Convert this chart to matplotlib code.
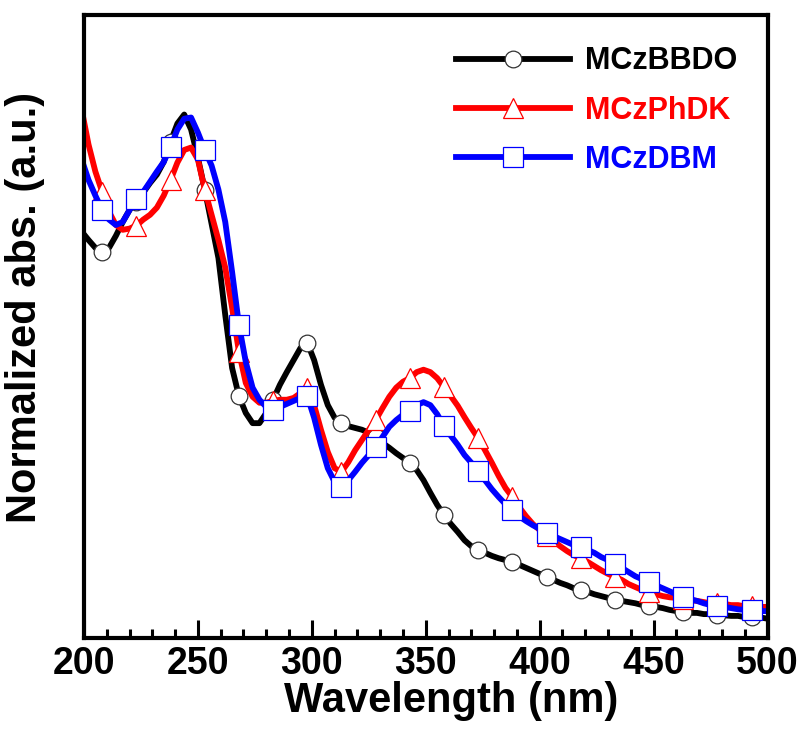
import numpy as np
import matplotlib
matplotlib.use("Agg")
import matplotlib.pyplot as plt
from matplotlib.ticker import MultipleLocator

plt.rcParams['font.family'] = ['Liberation Sans', 'DejaVu Sans']
plt.rcParams['font.weight'] = 'bold'

# wavelength grid (nm), every 3 nm
wavelength = np.arange(199, 500, 3)

mczbbdo = [0.677, 0.663, 0.650, 0.643, 0.650, 0.670, 0.693, 0.713, 0.727, 0.742,
           0.758, 0.772, 0.793, 0.827, 0.857, 0.872, 0.847, 0.800, 0.747, 0.690,
           0.633, 0.538, 0.450, 0.403, 0.375, 0.358, 0.358, 0.375, 0.397, 0.422,
           0.443, 0.463, 0.483, 0.492, 0.463, 0.422, 0.388, 0.367, 0.358, 0.353,
           0.350, 0.347, 0.342, 0.335, 0.325, 0.317, 0.308, 0.300, 0.292, 0.280,
           0.263, 0.242, 0.222, 0.205, 0.190, 0.177, 0.163, 0.153, 0.147, 0.142,
           0.137, 0.133, 0.130, 0.127, 0.122, 0.117, 0.112, 0.107, 0.102, 0.097,
           0.092, 0.088, 0.083, 0.080, 0.077, 0.073, 0.070, 0.067, 0.063, 0.062,
           0.060, 0.058, 0.055, 0.053, 0.052, 0.050, 0.047, 0.045, 0.043, 0.042,
           0.042, 0.040, 0.040, 0.038, 0.038, 0.037, 0.037, 0.035, 0.035, 0.035,
           0.033]

mczphdk = [0.880, 0.822, 0.777, 0.743, 0.710, 0.688, 0.680, 0.682, 0.687, 0.697,
           0.705, 0.717, 0.737, 0.763, 0.792, 0.813, 0.817, 0.797, 0.747, 0.705,
           0.663, 0.617, 0.550, 0.477, 0.425, 0.402, 0.392, 0.392, 0.395, 0.397,
           0.397, 0.400, 0.408, 0.417, 0.388, 0.347, 0.310, 0.283, 0.277, 0.293,
           0.313, 0.330, 0.347, 0.363, 0.383, 0.402, 0.417, 0.427, 0.433, 0.443,
           0.447, 0.443, 0.433, 0.418, 0.403, 0.387, 0.368, 0.350, 0.333, 0.313,
           0.292, 0.270, 0.250, 0.235, 0.218, 0.203, 0.190, 0.180, 0.170, 0.162,
           0.153, 0.145, 0.138, 0.133, 0.127, 0.120, 0.113, 0.107, 0.102, 0.097,
           0.090, 0.085, 0.080, 0.077, 0.073, 0.070, 0.068, 0.067, 0.065, 0.063,
           0.062, 0.060, 0.058, 0.058, 0.057, 0.055, 0.055, 0.053, 0.053, 0.052,
           0.052]

mczdbm = [0.797, 0.763, 0.737, 0.713, 0.697, 0.688, 0.693, 0.713, 0.732, 0.743,
          0.760, 0.777, 0.793, 0.818, 0.847, 0.865, 0.867, 0.842, 0.813, 0.787,
          0.747, 0.693, 0.610, 0.522, 0.460, 0.417, 0.397, 0.385, 0.380, 0.385,
          0.390, 0.395, 0.400, 0.403, 0.367, 0.322, 0.283, 0.260, 0.252, 0.263,
          0.277, 0.292, 0.305, 0.318, 0.335, 0.352, 0.363, 0.372, 0.378, 0.388,
          0.393, 0.388, 0.373, 0.353, 0.337, 0.322, 0.305, 0.292, 0.278, 0.263,
          0.248, 0.235, 0.223, 0.213, 0.203, 0.195, 0.188, 0.182, 0.175, 0.170,
          0.165, 0.160, 0.155, 0.152, 0.147, 0.142, 0.135, 0.130, 0.123, 0.117,
          0.110, 0.103, 0.098, 0.093, 0.088, 0.083, 0.078, 0.073, 0.068, 0.065,
          0.062, 0.058, 0.055, 0.053, 0.052, 0.050, 0.048, 0.047, 0.047, 0.045,
          0.045]

labels = ['MCzBBDO', 'MCzPhDK', 'MCzDBM']
colors = ['black', 'red', 'blue']

fig = plt.figure(figsize=(8.09, 7.42), dpi=100)
ax = fig.add_axes([0.1038, 0.140, 0.845, 0.840])

# markers every 15 nm starting at 208 nm
mk = (3, 5)
ax.plot(wavelength, mczbbdo, color='black', lw=4.2, marker='o', ms=12,
        mfc='white', mec='#333333', mew=0.9, markevery=mk, label=labels[0])
ax.plot(wavelength, mczphdk, color='red', lw=4.2, marker='^', ms=14,
        mfc='white', mec='red', mew=0.9, markevery=mk, label=labels[1])
ax.plot(wavelength, mczdbm, color='blue', lw=4.2, marker='s', ms=14,
        mfc='white', mec='blue', mew=0.9, markevery=mk, label=labels[2])

ax.set_xlim(200, 500)
ax.set_ylim(0, 1.038)
ax.xaxis.set_major_locator(MultipleLocator(50))
ax.xaxis.set_minor_locator(MultipleLocator(10))
ax.tick_params(axis='x', which='major', direction='in', length=13, width=2.2,
               labelsize=27, pad=6, top=False)
ax.tick_params(axis='x', which='minor', direction='in', length=6.5, width=2.2, top=False)
ax.set_yticks([])
for s in ax.spines.values():
    s.set_linewidth(3)

ax.set_xlabel('Wavelength (nm)', fontsize=30, fontweight='bold')
ax.xaxis.set_label_coords(0.537, -0.068)
ax.set_ylabel('Normalized abs. (a.u.)', fontsize=30, fontweight='bold')
ax.yaxis.set_label_coords(-0.057, 0.53)

leg = ax.legend(loc='upper left', bbox_to_anchor=(0.527, 0.969), frameon=False,
                prop={'size': 22, 'weight': 'bold'}, labelcolor=colors,
                handlelength=3.7, handletextpad=0.5, labelspacing=0.63,
                numpoints=1, borderaxespad=0)

fig.savefig('out.png', dpi=100)
